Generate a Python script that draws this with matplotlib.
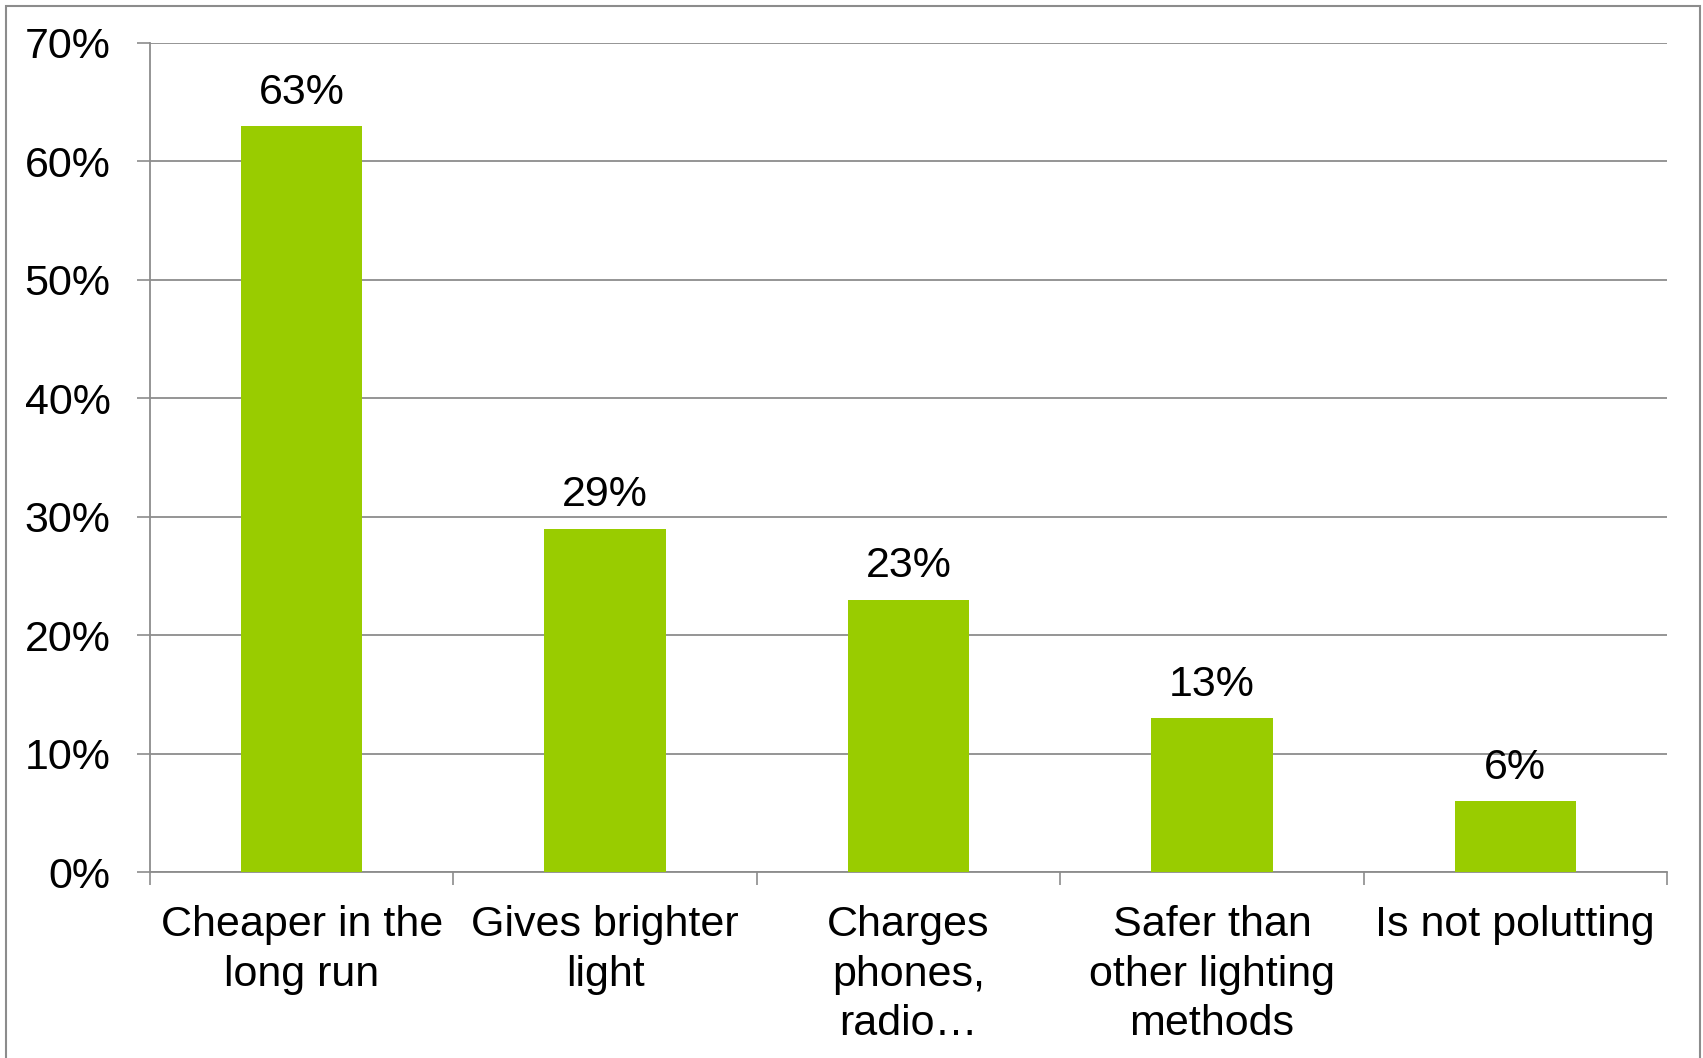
import matplotlib
matplotlib.use("Agg")
import matplotlib.pyplot as plt
from matplotlib.patches import Rectangle

categories = ["Cheaper in the\nlong run", "Gives brighter\nlight", "Charges\nphones,\nradio…",
              "Safer than\nother lighting\nmethods", "Is not polutting"]
values = [63, 29, 23, 13, 6]
yticks = [0, 10, 20, 30, 40, 50, 60, 70]
ytick_labels = ["0%", "10%", "20%", "30%", "40%", "50%", "60%", "70%"]
bar_labels = ["63%", "29%", "23%", "13%", "6%"]

plt.rcParams['font.family'] = ['Liberation Sans', 'DejaVu Sans']
FS = 31
GRID = "#8c8c8c"

fig = plt.figure(figsize=(17.03, 10.58), dpi=100)
ax = fig.add_axes([150/1703, 186/1058, (1667-150)/1703, (872-43)/1058])

x = list(range(len(categories)))
bars = ax.bar(x, values, width=0.4, color="#99CC00", zorder=3)
ax.bar_label(bars, labels=bar_labels, padding=9.5, fontsize=FS, color="black")

ax.set_xlim(-0.5, len(categories) - 0.5)
ax.set_ylim(0, 70)
ax.set_yticks(yticks)
ax.set_yticklabels(ytick_labels, fontsize=FS)
ax.set_xticks(x)
ax.set_xticklabels(categories, fontsize=FS, linespacing=1.3)
ax.tick_params(axis='x', length=0, pad=24)
ax.set_xticks([i - 0.5 for i in range(len(categories) + 1)], minor=True)
ax.tick_params(axis='x', which='minor', length=9.4, width=1.2, color=GRID, direction='out')
ax.tick_params(axis='y', length=9.4, width=1.2, color=GRID, pad=19, direction='out')

ax.grid(axis='y', color=GRID, linewidth=1.3, zorder=0)
ax.set_axisbelow(True)
for s in ['top', 'right']:
    ax.spines[s].set_visible(False)
for s in ['left', 'bottom']:
    ax.spines[s].set_color(GRID)
    ax.spines[s].set_linewidth(1.3)

fig.patches.append(Rectangle((6/1703, -0.05), (1700-6)/1703, 1.05 - 6/1058,
                             transform=fig.transFigure, fill=False,
                             edgecolor="#8c8c8c", linewidth=1.5, clip_on=False))

fig.savefig("out.png", dpi=100, facecolor="white")
